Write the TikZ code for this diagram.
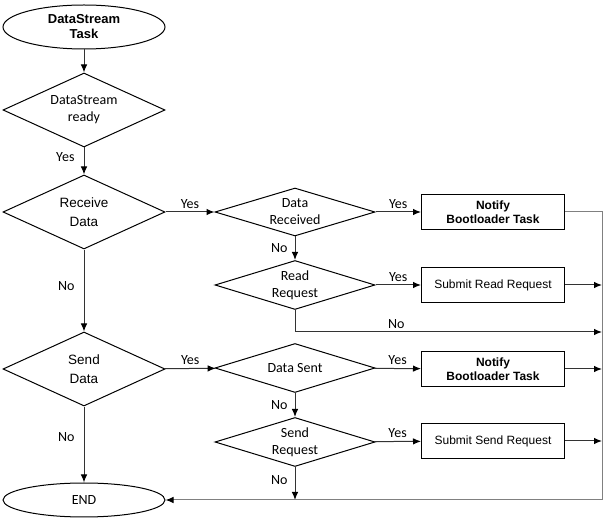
\documentclass[tikz,border=0pt]{standalone}
\usepackage{fontspec}
\setmainfont{Liberation Sans}
\newfontfamily\calibri{Carlito}
\usetikzlibrary{arrows, arrows.meta, calc, positioning, shapes.geometric}

\newcommand{\boxfont}{\fontsize{12}{13.5}\selectfont}
\newcommand{\mainfont}{\fontsize{13.5}{19}\selectfont}
\newcommand{\notefont}{\calibri\fontsize{14}{17}\selectfont}

\begin{document}
\begin{tikzpicture}[x=1pt, y=-1pt, line width=1pt,
		decision/.style={diamond, draw, inner sep=0pt, align=center},
		big_decision/.style={decision, aspect=2.5, minimum width=162pt, minimum height=74pt},
		small_decision/.style={decision, aspect=3.3, minimum width=160pt, minimum height=49pt, font=\notefont},
		terminal/.style={ellipse, draw, inner sep=0pt, minimum width=162pt, align=center},
		process/.style={rectangle, draw, minimum width=143pt, minimum height=35pt, align=center, font=\boxfont},
		flow/.style={draw=black!80, -{Latex[length=8pt, width=6.5pt, color=black]}},
		bus/.style={draw=gray},
		answer/.style={font=\notefont, inner sep=3pt}]
				\useasboundingbox (0,0) rectangle (606,521);
				% left column
				\node (start) [terminal, minimum height=44pt, font=\bfseries\fontsize{13}{15}\selectfont] at (84,27) {DataStream\\Task};
				\node (ds_ready) [big_decision, font=\notefont] at (84,110) {DataStream\\ready};
				\node (receive) [big_decision, font=\mainfont] at (84,212) {Receive\\Data};
				\node (send) [big_decision, font=\mainfont] at (84,369) {Send\\Data};
				\node (end) [terminal, minimum height=34pt, font=\notefont] at (84,500) {END};
				% middle column
				\node (data_received) [small_decision, minimum height=48pt] at (295,212) {Data\\Received};
				\node (read_request) [small_decision] at (295,285) {Read\\Request};
				\node (data_sent) [small_decision] at (295,368) {Data Sent};
				\node (send_request) [small_decision] at (295,442) {Send\\Request};
				% right column
				\node (notify_rx) [process, font=\boxfont\bfseries] at (493,212) {Notify\\Bootloader Task};
				\node (submit_read) [process] at (493,285) {Submit Read Request};
				\node (notify_tx) [process, font=\boxfont\bfseries] at (493,369) {Notify\\Bootloader Task};
				\node (submit_send) [process] at (493,441) {Submit Send Request};
				\coordinate (bus_top) at (602,212);
				\coordinate (bus_bottom) at (602,500);

				\draw[flow] (start) -- (ds_ready);
				\draw[flow] (ds_ready) -- (receive) node[answer, pos=.35, left=6pt] {Yes};
				\draw[flow] (receive) -- (data_received) node[answer, midway, above] {Yes};
				\draw[flow] (receive) -- (send) node[answer, pos=.45, left=6pt] {No};
				\draw[flow] (send) -- (data_sent) node[answer, midway, above] {Yes};
				\draw[flow] (send) -- (end) node[answer, pos=.4, left=6pt] {No};

				\draw[flow] (data_received) -- (notify_rx) node[answer, midway, above] {Yes};
				\draw[flow] (data_received) -- (read_request) node[answer, midway, left=4pt] {No};
				\draw[flow] (read_request) -- (submit_read) node[answer, midway, above] {Yes};
				\draw[flow] (read_request.south) |- ($(bus_top)+(0,120)$) node[answer, pos=.665, above] {No};
				\draw[flow] (data_sent) -- (notify_tx) node[answer, midway, above] {Yes};
				\draw[flow] (data_sent) -- (send_request) node[answer, midway, left=4pt] {No};
				\draw[flow] (send_request) -- (submit_send) node[answer, midway, above] {Yes};
				\draw[flow] (send_request) -- (send_request |- bus_bottom) node[answer, pos=.4, left=4pt] {No};

				\draw[flow] (submit_read) -- (submit_read -| bus_top);
				\draw[flow] (notify_tx) -- (notify_tx -| bus_top);
				\draw[flow] (submit_send) -- (submit_send -| bus_top);
				\draw[bus] (notify_rx) -- (bus_top) -- (bus_bottom);
				\draw[bus, -{Latex[length=8pt, width=6.5pt, color=black]}] (bus_bottom) -- (end);
			\end{tikzpicture}
\end{document}
